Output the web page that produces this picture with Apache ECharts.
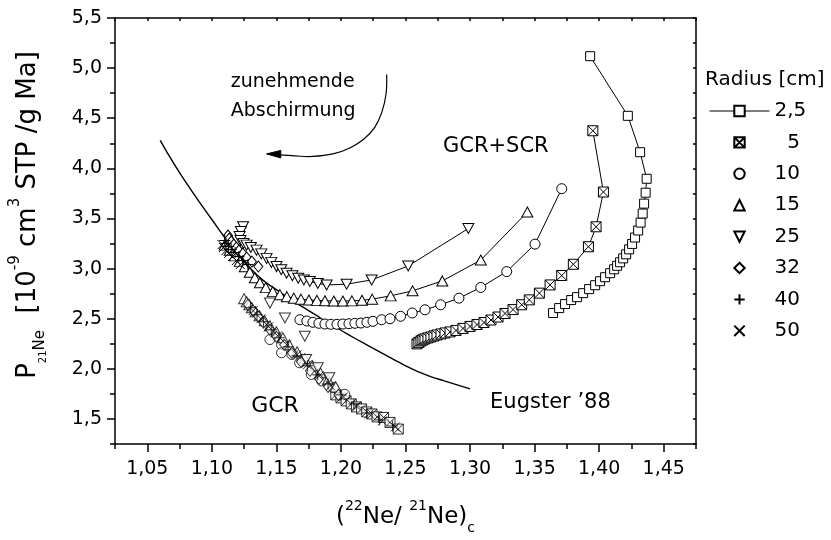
<!DOCTYPE html>
<html>
<head>
<meta charset="utf-8">
<script src="https://cdn.jsdelivr.net/npm/echarts@6/dist/echarts.min.js"></script>
<style>
  html, body { margin: 0; padding: 0; background: #fff; }
  #chart { width: 831px; height: 540px; }
</style>
</head>
<body>
<div id="chart"></div>
<script>
// ---- axis ticks ----
const xTicks = [1.05, 1.10, 1.15, 1.20, 1.25, 1.30, 1.35, 1.40, 1.45];
const xTickLabels = ['1,05', '1,10', '1,15', '1,20', '1,25', '1,30', '1,35', '1,40', '1,45'];
const xMinorTicks = [1.025, 1.075, 1.125, 1.175, 1.225, 1.275, 1.325, 1.375, 1.425, 1.475];
const yTicks = [1.5, 2.0, 2.5, 3.0, 3.5, 4.0, 4.5, 5.0, 5.5];
const yTickLabels = ['1,5', '2,0', '2,5', '3,0', '3,5', '4,0', '4,5', '5,0', '5,5'];
const yMinorTicks = [1.25, 1.75, 2.25, 2.75, 3.25, 3.75, 4.25, 4.75, 5.25];

// ---- legend entries (radius in cm) ----
const radiusNames = ['2,5', '5', '10', '15', '25', '32', '40', '50'];

// ---- GCR+SCR depth profiles: [ (22Ne/21Ne)c , P21 ] ----
const scr2_5 = [
  [1.3643, 2.557], [1.3690, 2.606], [1.3736, 2.646], [1.3783, 2.686], [1.3829, 2.715],
  [1.3876, 2.755], [1.3922, 2.795], [1.3969, 2.834], [1.4007, 2.874], [1.4046, 2.914],
  [1.4085, 2.954], [1.4116, 2.993], [1.4139, 3.028], [1.4162, 3.063], [1.4186, 3.102],
  [1.4209, 3.142], [1.4232, 3.192], [1.4255, 3.246], [1.4278, 3.310], [1.4302, 3.380],
  [1.4321, 3.459], [1.4337, 3.549], [1.4348, 3.648], [1.4360, 3.757], [1.4368, 3.896],
  [1.4317, 4.161], [1.4222, 4.524], [1.3930, 5.119]
];
const scr5 = [
  [1.2589, 2.249], [1.2604, 2.264], [1.2620, 2.279], [1.2635, 2.289], [1.2651, 2.299],
  [1.2674, 2.309], [1.2697, 2.318], [1.2721, 2.328], [1.2744, 2.338], [1.2775, 2.348],
  [1.2806, 2.358], [1.2845, 2.368], [1.2891, 2.383], [1.2945, 2.403], [1.3000, 2.423],
  [1.3054, 2.442], [1.3108, 2.462], [1.3162, 2.487], [1.3217, 2.517], [1.3271, 2.552],
  [1.3333, 2.591], [1.3400, 2.639], [1.3459, 2.688], [1.3537, 2.755], [1.3620, 2.837],
  [1.3710, 2.931], [1.3800, 3.043], [1.3917, 3.218], [1.3976, 3.417], [1.4033, 3.764],
  [1.3951, 4.375]
];
const scr10 = [
  [1.1682, 2.490], [1.1736, 2.477], [1.1783, 2.464], [1.1829, 2.454], [1.1876, 2.447],
  [1.1922, 2.444], [1.1969, 2.444], [1.2015, 2.447], [1.2062, 2.450], [1.2108, 2.454],
  [1.2155, 2.457], [1.2201, 2.464], [1.2248, 2.474], [1.2315, 2.490], [1.2380, 2.500],
  [1.2462, 2.524], [1.2552, 2.557], [1.2651, 2.589], [1.2772, 2.639], [1.2914, 2.705],
  [1.3083, 2.812], [1.3284, 2.970], [1.3503, 3.244], [1.3710, 3.797]
];
const scr15 = [
  [1.1100, 3.234], [1.1139, 3.182], [1.1178, 3.127], [1.1217, 3.072], [1.1255, 3.018],
  [1.1294, 2.963], [1.1333, 2.909], [1.1372, 2.859], [1.1418, 2.810], [1.1472, 2.770],
  [1.1527, 2.740], [1.1581, 2.720], [1.1635, 2.705], [1.1690, 2.695], [1.1752, 2.687],
  [1.1814, 2.683], [1.1876, 2.679], [1.1945, 2.676], [1.2015, 2.676], [1.2085, 2.678],
  [1.2163, 2.684], [1.2242, 2.695], [1.2385, 2.728], [1.2555, 2.778], [1.2785, 2.877],
  [1.3083, 3.085], [1.3444, 3.565]
];
const scr25 = [
  [1.1242, 3.417], [1.1225, 3.370], [1.1215, 3.320], [1.1222, 3.280], [1.1245, 3.250],
  [1.1269, 3.234], [1.1302, 3.211], [1.1346, 3.184], [1.1383, 3.147], [1.1424, 3.102],
  [1.1461, 3.062], [1.1501, 3.020], [1.1538, 2.988], [1.1579, 2.953], [1.1624, 2.929],
  [1.1669, 2.904], [1.1713, 2.886], [1.1759, 2.871], [1.1821, 2.852], [1.1889, 2.837],
  [1.2044, 2.844], [1.2238, 2.887], [1.2521, 3.026], [1.2987, 3.400]
];
const scr32 = [
  [1.1125, 3.330], [1.1135, 3.300], [1.1150, 3.270], [1.1170, 3.240], [1.1190, 3.210],
  [1.1210, 3.180], [1.1240, 3.150], [1.1270, 3.110], [1.1310, 3.070], [1.1360, 3.020]
];
const scr40 = [
  [1.1100, 3.280], [1.1110, 3.250], [1.1130, 3.220], [1.1150, 3.190], [1.1180, 3.160],
  [1.1210, 3.120], [1.1240, 3.080], [1.1280, 3.040]
];
const scr50 = [
  [1.1080, 3.240], [1.1090, 3.210], [1.1110, 3.180], [1.1130, 3.150], [1.1160, 3.120],
  [1.1190, 3.080], [1.1220, 3.040]
];

// ---- pure GCR profiles ----
const gcr5 = [
  [1.1960, 1.740], [1.2000, 1.710], [1.2040, 1.680], [1.2080, 1.650], [1.2120, 1.620],
  [1.2160, 1.600], [1.2200, 1.570], [1.2240, 1.550], [1.2280, 1.520], [1.2330, 1.515],
  [1.2380, 1.465], [1.2444, 1.399]
];
const gcr10 = [
  [1.1450, 2.292], [1.1540, 2.242], [1.1540, 2.160], [1.1620, 2.143], [1.1680, 2.060],
  [1.1770, 1.944], [1.1850, 1.879], [1.1940, 1.812], [1.2030, 1.746]
];
const gcr15 = [
  [1.1250, 2.700], [1.1270, 2.670], [1.1290, 2.640], [1.1310, 2.610], [1.1340, 2.570],
  [1.1370, 2.530], [1.1410, 2.480], [1.1450, 2.430], [1.1500, 2.370], [1.1550, 2.310],
  [1.1600, 2.240], [1.1660, 2.170], [1.1720, 2.100], [1.1780, 2.030], [1.1840, 1.960],
  [1.1900, 1.890], [1.1960, 1.820]
];
const gcr25 = [
  [1.1450, 2.656], [1.1566, 2.507], [1.1720, 2.325], [1.1730, 2.093], [1.1820, 2.011],
  [1.1910, 1.911]
];
const gcr32 = [
  [1.1280, 2.640], [1.1320, 2.580], [1.1360, 2.520], [1.1400, 2.460], [1.1450, 2.390],
  [1.1500, 2.320], [1.1560, 2.240], [1.1620, 2.160], [1.1690, 2.070], [1.1760, 1.980],
  [1.1830, 1.900], [1.1900, 1.820], [1.1980, 1.740]
];
const gcr40 = [
  [1.1300, 2.610], [1.1350, 2.540], [1.1400, 2.470], [1.1460, 2.390], [1.1520, 2.310],
  [1.1590, 2.220], [1.1660, 2.130], [1.1740, 2.030], [1.1820, 1.940], [1.1900, 1.850],
  [1.2000, 1.740], [1.2100, 1.650], [1.2200, 1.560], [1.2300, 1.490], [1.2400, 1.430]
];
const gcr50 = [
  [1.1320, 2.580], [1.1380, 2.500], [1.1440, 2.420], [1.1510, 2.330], [1.1580, 2.240],
  [1.1660, 2.140], [1.1740, 2.040], [1.1830, 1.930], [1.1920, 1.830], [1.2020, 1.720],
  [1.2120, 1.630], [1.2220, 1.550], [1.2320, 1.480], [1.2420, 1.420]
];

// ---- Eugster (1988) correlation line ----
const eugster88 = [
  [1.060, 4.28], [1.070, 4.06], [1.080, 3.86], [1.090, 3.67], [1.100, 3.49],
  [1.110, 3.31], [1.120, 3.15], [1.130, 3.00], [1.140, 2.88], [1.150, 2.79],
  [1.160, 2.70], [1.170, 2.62], [1.180, 2.54], [1.190, 2.46], [1.200, 2.385],
  [1.210, 2.31], [1.220, 2.24], [1.230, 2.17], [1.240, 2.10], [1.250, 2.03],
  [1.260, 1.97], [1.270, 1.92], [1.280, 1.88], [1.290, 1.84], [1.300, 1.80]
];

const FONT = "'DejaVu Sans', 'Liberation Sans', Arial, sans-serif";
const X_MIN = 1.025, X_MAX = 1.475, Y_MIN = 1.25, Y_MAX = 5.5;

// symbol shapes per radius
const symbols = {
  '2,5': { symbol: 'rect', size: 9 },
  '5':   { symbol: 'path://M0,0H10V10H0Z M0,0L10,10 M10,0L0,10', size: 10 },
  '10':  { symbol: 'circle', size: 10 },
  '15':  { symbol: 'path://M5,0L10,8.66H0Z', size: [11, 10] },
  '25':  { symbol: 'path://M0,0H10L5,8.66Z', size: [11, 10] },
  '32':  { symbol: 'diamond', size: [9, 11] },
  '40':  { symbol: 'path://M5,0V10M0,5H10', size: 11 },
  '50':  { symbol: 'path://M0,0L10,10M10,0L0,10', size: 9 }
};

const scrData = { '2,5': scr2_5, '5': scr5, '10': scr10, '15': scr15, '25': scr25, '32': scr32, '40': scr40, '50': scr50 };
const gcrData = { '2,5': [], '5': gcr5, '10': gcr10, '15': gcr15, '25': gcr25, '32': gcr32, '40': gcr40, '50': gcr50 };

const markStyle = { color: '#fff', borderColor: '#000', borderWidth: 1 };

const series = [];
radiusNames.forEach(function (name) {
  const s = symbols[name];
  series.push({
    name: name, type: 'line', data: scrData[name],
    symbol: s.symbol, symbolSize: s.size, showAllSymbol: true,
    itemStyle: markStyle, lineStyle: { color: '#000', width: 1 },
    xAxisIndex: 0, yAxisIndex: 0, z: 3
  });
});
radiusNames.forEach(function (name) {
  const s = symbols[name];
  if (!gcrData[name].length) return;
  series.push({
    name: name, type: 'scatter', data: gcrData[name],
    symbol: s.symbol, symbolSize: s.size,
    itemStyle: markStyle,
    xAxisIndex: 0, yAxisIndex: 0, z: 3
  });
});
series.push({
  name: 'Eugster 88', type: 'line', data: eugster88, smooth: true,
  symbol: 'none', lineStyle: { color: '#000', width: 1.4 },
  xAxisIndex: 0, yAxisIndex: 0, z: 2
});

function fmt(ticks, labels) {
  return function (v) {
    for (let i = 0; i < ticks.length; i++) {
      if (Math.abs(ticks[i] - v) < 1e-6) return labels[i];
    }
    return '';
  };
}

const axisLine = { show: true, lineStyle: { color: '#000', width: 1.5 } };
const labelFont = { color: '#000', fontFamily: FONT, fontSize: 19 };

const option = {
  animation: false,
  backgroundColor: '#fff',
  grid: { left: 115, right: 135, top: 18, bottom: 94, containLabel: false },
  xAxis: [
    {
      type: 'value', position: 'bottom', min: X_MIN, max: X_MAX,
      axisLine: axisLine,
      axisTick: { show: true, inside: false, length: 8, customValues: xTicks, lineStyle: { color: '#000', width: 1.5 } },
      axisLabel: Object.assign({ customValues: xTicks, margin: 16, formatter: fmt(xTicks, xTickLabels) }, labelFont),
      splitLine: { show: false },
      name: '{p|(}{sup|22}{p|Ne/ }{sup|21}{p|Ne)}{sub|c}',
      nameLocation: 'middle', nameGap: 55,
      nameTextStyle: {
        rich: {
          p: { fontFamily: FONT, fontSize: 23, color: '#000', lineHeight: 36, verticalAlign: 'middle' },
          sup: { fontFamily: FONT, fontSize: 14, color: '#000', lineHeight: 16, verticalAlign: 'top' },
          sub: { fontFamily: FONT, fontSize: 14, color: '#000', lineHeight: 18, verticalAlign: 'bottom' }
        }
      }
    },
    {
      type: 'value', position: 'bottom', min: X_MIN, max: X_MAX,
      axisLine: { show: false },
      axisTick: { show: true, inside: false, length: 5, customValues: xMinorTicks, lineStyle: { color: '#000', width: 1.5 } },
      axisLabel: { show: false }, splitLine: { show: false }
    },
    {
      type: 'value', position: 'top', min: X_MIN, max: X_MAX,
      axisLine: axisLine,
      axisTick: { show: true, inside: true, length: 3, customValues: xTicks.concat(xMinorTicks), lineStyle: { color: '#000', width: 1.5 } },
      axisLabel: { show: false }, splitLine: { show: false }
    }
  ],
  yAxis: [
    {
      type: 'value', position: 'left', min: Y_MIN, max: Y_MAX,
      axisLine: axisLine,
      axisTick: { show: true, inside: false, length: 8, customValues: yTicks, lineStyle: { color: '#000', width: 1.5 } },
      axisLabel: Object.assign({ customValues: yTicks, margin: 13, formatter: fmt(yTicks, yTickLabels) }, labelFont),
      splitLine: { show: false }
    },
    {
      type: 'value', position: 'left', min: Y_MIN, max: Y_MAX,
      axisLine: { show: false },
      axisTick: { show: true, inside: false, length: 5, customValues: yMinorTicks, lineStyle: { color: '#000', width: 1.5 } },
      axisLabel: { show: false }, splitLine: { show: false }
    },
    {
      type: 'value', position: 'right', min: Y_MIN, max: Y_MAX,
      axisLine: axisLine,
      axisTick: { show: true, inside: true, length: 3, customValues: yTicks.concat(yMinorTicks), lineStyle: { color: '#000', width: 1.5 } },
      axisLabel: { show: false }, splitLine: { show: false }
    }
  ],
  legend: {
    show: true, orient: 'vertical', left: 704, top: 96,
    selectedMode: false,
    itemWidth: 60, itemHeight: 13, itemGap: 11.4,
    textStyle: { color: '#000', fontFamily: FONT, fontSize: 20 },
    formatter: function (n) { return n === '5' ? '  5' : n; },
    data: radiusNames.map(function (n, i) {
      return i === 0 ? { name: n, lineStyle: { width: 1, color: '#000' } }
                     : { name: n, lineStyle: { width: 0, opacity: 0 } };
    })
  },
  series: series
};

const chart = echarts.init(document.getElementById('chart'), null, { renderer: 'canvas' });
chart.setOption(option);

// ---- annotations placed in data coordinates ----
function toPx(p) { return chart.convertToPixel({ xAxisIndex: 0, yAxisIndex: 0 }, p); }

const arrowArc = [
  [1.2354, 4.937], [1.2349, 4.739], [1.2317, 4.561], [1.2263, 4.412], [1.2178, 4.293],
  [1.2069, 4.203], [1.1938, 4.144], [1.1783, 4.119], [1.1643, 4.124], [1.1527, 4.134]
];
const arrowHead = [[1.1424, 4.144], [1.1534, 4.179], [1.1534, 4.104]];

function label(text, pos, size) {
  const p = toPx(pos);
  return {
    type: 'text', x: p[0], y: p[1], z: 10,
    style: { text: text, fill: '#000', font: size + 'px ' + FONT, textAlign: 'left', textVerticalAlign: 'middle' }
  };
}

const graphics = [
  label('zunehmende', [1.1147, 4.858], 19),
  label('Abschirmung', [1.1147, 4.570], 19),
  label('GCR+SCR', [1.279, 4.222], 21),
  label('GCR', [1.1305, 1.631], 22),
  label('Eugster \u201988', [1.3155, 1.664], 21),
  {
    type: 'polyline', z: 10,
    shape: { points: arrowArc.map(toPx), smooth: 0.4 },
    style: { stroke: '#000', lineWidth: 1.2, fill: null }
  },
  {
    type: 'polygon', z: 10,
    shape: { points: arrowHead.map(toPx) },
    style: { fill: '#000', stroke: '#000', lineWidth: 1 }
  },
  {
    type: 'text', x: 705, y: 80, z: 10,
    style: { text: 'Radius [cm]', fill: '#000', font: '20px ' + FONT, textAlign: 'left', textVerticalAlign: 'middle' }
  },
  {
    type: 'text', x: 28, y: 215, rotation: Math.PI / 2, z: 10,
    style: {
      text: '{p|P}{s21|21}{sub|Ne}{p|  [10}{sup|-9}{p| cm}{sup|3}{p| STP /g Ma]}',
      textAlign: 'center', textVerticalAlign: 'middle',
      rich: {
        p: { fontFamily: FONT, fontSize: 26, fill: '#000', lineHeight: 40, verticalAlign: 'middle' },
        sup: { fontFamily: FONT, fontSize: 15, fill: '#000', lineHeight: 17, verticalAlign: 'top' },
        sub: { fontFamily: FONT, fontSize: 15, fill: '#000', lineHeight: 23, verticalAlign: 'bottom' },
        s21: { fontFamily: FONT, fontSize: 10, fill: '#000', lineHeight: 38, verticalAlign: 'bottom' }
      }
    }
  }
];
chart.setOption({ graphic: graphics });
</script>
</body>
</html>
